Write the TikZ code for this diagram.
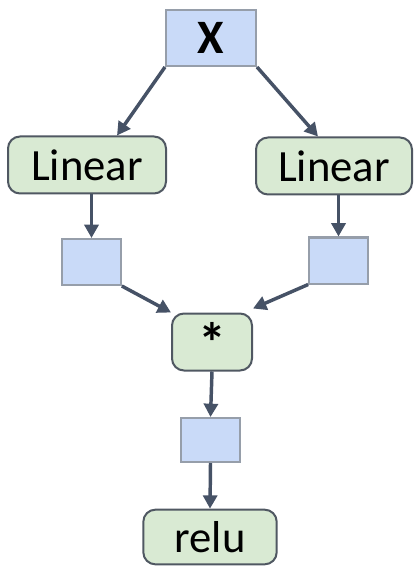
\documentclass[tikz,border=0pt]{standalone}
\usepackage{fontspec}
\setmainfont{Carlito}
\usetikzlibrary{arrows.meta}

\definecolor{tensorfill}{RGB}{201,218,248}
\definecolor{tensorline}{RGB}{150,158,170}
\definecolor{opfill}{RGB}{217,234,211}
\definecolor{opline}{RGB}{80,88,98}
\definecolor{flowline}{RGB}{70,82,102}

\tikzset{every picture/.style={line width=0.75pt}}
\tikzset{
  tensor/.style={draw=tensorline, fill=tensorfill, line width=1.5pt, inner sep=0pt},
  op/.style={draw=opline, fill=opfill, line width=1.5pt, rounded corners=9pt, inner sep=0pt,
    font=\fontsize{33.5}{38}\selectfont},
  flow/.style={draw=flowline, line width=2.6pt, -{Triangle[length=10pt,width=10.5pt]}}
}

\begin{document}
\begin{tikzpicture}[x=0.75pt,y=0.75pt,yscale=-1,xscale=1]
\useasboundingbox (0,0) rectangle (413,566);

% Input
\node [tensor, minimum width=67.5pt, minimum height=42pt, font=\fontsize{36}{40}\selectfont\bfseries] (x) at (211,38) {X};
% Linear layers
\node [op, minimum width=118.5pt, minimum height=42.75pt] (linL) at (87,165) {Linear};
\node [op, minimum width=117pt, minimum height=42.75pt] (linR) at (334,166) {Linear};
% Intermediate tensors
\node [tensor, minimum width=44pt, minimum height=34.5pt] (hL) at (91.5,262) {};
\node [tensor, minimum width=44pt, minimum height=34.5pt] (hR) at (338.5,260.5) {};
% Product
\node [op, minimum width=60pt, minimum height=42.75pt, font=\fontsize{42}{46}\selectfont\bfseries] (mul) at (212,342) {*};
\node [tensor, minimum width=44pt, minimum height=33pt] (hM) at (210.5,440) {};
% Activation
\node [op, minimum width=100pt, minimum height=41pt] (relu) at (210,537) {relu};

% Arrows
\draw [flow] (x.south west) -- ([xshift=22.5pt]linL.north);
\draw [flow] (x.south east) -- ([xshift=-12pt]linR.north);
\draw [flow] (hL |- linL.south) -- (hL.north);
\draw [flow] (hR |- linR.south) -- (hR.north);
\draw [flow] (hL.south east) -- (mul.north west);
\draw [flow] (hR.south west) -- ([yshift=-3pt]mul.north east);
\draw [flow] (mul.south) -- (hM.north);
\draw [flow] (hM.south) -- (relu.north);

\end{tikzpicture}
\end{document}
